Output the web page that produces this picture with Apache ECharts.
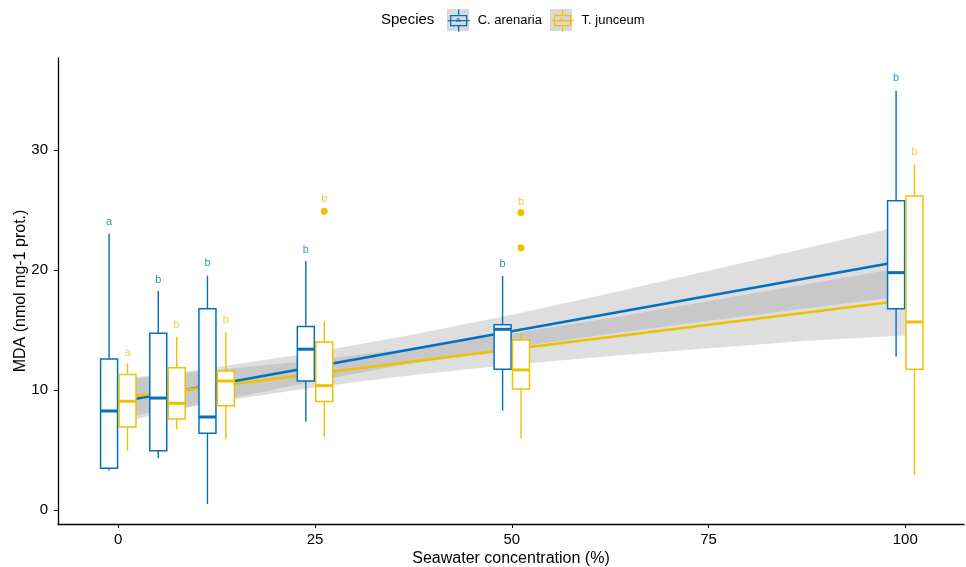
<!DOCTYPE html>
<html>
<head>
<meta charset="utf-8">
<title>MDA vs seawater concentration</title>
<script src="https://cdn.jsdelivr.net/npm/echarts@6/dist/echarts.min.js"></script>
<style>
  html, body { margin: 0; padding: 0; background: #fff; }
  #chart { width: 966px; height: 567px; }
</style>
</head>
<body>
<div id="chart"></div>
<script>
// seawater treatments (%)
const concentrations = [0, 6.25, 12.5, 25, 50, 100];

// boxplots: [min, Q1, median, Q3, max]
const arenariaBox = [
  [3.28, 3.47, 8.25, 12.58, 23.05],
  [4.33, 4.94, 9.33, 14.72, 18.25],
  [0.5, 6.39, 7.75, 16.78, 19.53],
  [7.36, 10.75, 13.4, 15.3, 20.75],
  [8.28, 11.72, 15.06, 15.44, 19.5],
  [12.78, 16.78, 19.78, 25.78, 34.94],
];
const junceumBox = [
  [4.94, 6.92, 9.06, 11.3, 12.22],
  [6.72, 7.58, 8.89, 11.86, 14.44],
  [5.92, 8.69, 10.75, 11.58, 14.86],
  [6.11, 9.03, 10.36, 14.0, 15.7],
  [5.97, 10.08, 11.67, 14.17, 14.72],
  [2.92, 11.72, 15.67, 26.17, 28.8],
];

// outliers of T. junceum: [concentration, value]
const junceumOutliers = [[25, 24.9], [50, 24.8], [50, 21.86]];

// significance letters and where they sit
const arenariaLetters = ["a", "b", "b", "b", "b", "b"];
const arenariaLetterY = [24.0, 19.2, 20.6, 21.7, 20.5, 36.0];
const junceumLetters = ["a", "b", "b", "b", "b", "b"];
const junceumLetterY = [13.1, 15.4, 15.8, 25.9, 25.7, 29.8];

// linear fits
const fitX = [0, 100];
const arenariaFit = [9.0, 20.8];
const junceumFit = [9.31, 17.48];

// confidence bands of the fits
const bandX = [0, 12.5, 25, 37.5, 50, 62.5, 75, 87.5, 100];
const arenariaLower = [7.25, 9.07, 10.75, 12.24, 13.53, 14.69, 15.77, 16.82, 17.84];
const arenariaUpper = [10.75, 11.89, 13.15, 14.62, 16.27, 18.07, 19.93, 21.84, 23.76];
const junceumLower = [7.66, 9.0, 10.22, 11.25, 12.11, 12.83, 13.48, 14.1, 14.55];
const junceumUpper = [10.96, 11.66, 12.48, 13.49, 14.69, 16.01, 17.4, 18.82, 20.26];

const xTicks = [0, 25, 50, 75, 100];
const yTicks = [0, 10, 20, 30];

const BLUE = "#0070BF";
const YELLOW = "#EFC000";
const BAND = "rgba(153,153,153,0.32)";
const FONT = "Liberation Sans, Arial, sans-serif";
const dodge = 1.17;     // half the dodge distance, in x units
const boxWidth = 2.16;  // in x units

const chart = echarts.init(document.getElementById("chart"));

function zip(xs, ys) {
  return xs.map((x, i) => [x, ys[i]]);
}

function boxData(boxes, offset) {
  return boxes.map((b, i) => [concentrations[i] + offset].concat(b));
}

function letterData(letters, ys, offset) {
  return letters.map((l, i) => [concentrations[i] + offset, ys[i], l]);
}

function renderBox(params, api) {
  const x = api.value(0);
  const lo = api.coord([x, api.value(1)]);
  const q1 = api.coord([x, api.value(2)]);
  const med = api.coord([x, api.value(3)]);
  const q3 = api.coord([x, api.value(4)]);
  const hi = api.coord([x, api.value(5)]);
  const w = api.size([boxWidth, 0])[0];
  const color = api.visual("color");
  const line = { stroke: color, lineWidth: 1.4 };
  return {
    type: "group",
    children: [
      { type: "line", shape: { x1: hi[0], y1: hi[1], x2: q3[0], y2: q3[1] }, style: line },
      { type: "line", shape: { x1: q1[0], y1: q1[1], x2: lo[0], y2: lo[1] }, style: line },
      {
        type: "rect",
        shape: { x: q3[0] - w / 2, y: q3[1], width: w, height: q1[1] - q3[1] },
        style: { fill: "#fff", stroke: color, lineWidth: 1.5 },
      },
      {
        type: "line",
        shape: { x1: med[0] - w / 2, y1: med[1], x2: med[0] + w / 2, y2: med[1] },
        style: { stroke: color, lineWidth: 3 },
      },
    ],
  };
}

// one polygon for the whole band, drawn when the first item comes in
function bandSeries(lower, upper) {
  return {
    type: "custom",
    silent: true,
    z: 1,
    data: bandX.map((x, i) => [x, lower[i], upper[i]]),
    encode: { x: 0, y: [1, 2] },
    renderItem: function (params, api) {
      if (params.dataIndex !== 0) return null;
      const top = bandX.map((x, i) => api.coord([x, upper[i]]));
      const bottom = bandX.map((x, i) => api.coord([x, lower[i]])).reverse();
      return {
        type: "polygon",
        shape: { points: top.concat(bottom) },
        style: { fill: BAND },
      };
    },
  };
}

function letterSeries(data, color) {
  return {
    type: "scatter",
    data: data,
    symbolSize: 1,
    itemStyle: { color: "rgba(0,0,0,0)" },
    label: {
      show: true,
      position: "inside",
      formatter: (p) => p.value[2],
      color: color,
      fontSize: 11,
      fontFamily: FONT,
    },
    labelLayout: { hideOverlap: false },
    silent: true,
    z: 5,
  };
}

// legend key glyph: whisker, box, median and fit line
const keyIcon =
  "path://M11,0L11,6M3,6L19,6L19,16L3,16ZM3,11L19,11M11,16L11,22M0,11L3,11M19,11L22,11";

const option = {
  animation: false,
  textStyle: { fontFamily: FONT },
  title: {
    text: "Species",
    left: 381,
    top: 12,
    padding: 0,
    textStyle: { fontSize: 15, fontWeight: "normal", color: "#000", fontFamily: FONT },
  },
  legend: {
    left: 447,
    top: 9,
    padding: 0,
    itemWidth: 22,
    itemHeight: 22,
    itemGap: 9,
    z: 10,
    textStyle: { fontSize: 13, color: "#000", fontFamily: FONT, padding: [0, 0, 0, 3] },
    data: [
      {
        name: "C. arenaria",
        icon: keyIcon,
        itemStyle: { color: "rgba(0,0,0,0)", borderColor: BLUE, borderWidth: 1.3 },
      },
      {
        name: "T. junceum",
        icon: keyIcon,
        itemStyle: { color: "rgba(0,0,0,0)", borderColor: YELLOW, borderWidth: 1.3 },
      },
    ],
  },
  graphic: [
    { type: "rect", left: 447, top: 9, z: 1, shape: { width: 22, height: 22 }, style: { fill: "#d9d9d9" } },
    { type: "rect", left: 550, top: 9, z: 1, shape: { width: 22, height: 22 }, style: { fill: "#d9d9d9" } },
    {
      type: "text", x: 458, y: 20, z: 20,
      style: { text: "a", fill: BLUE, fontSize: 8, fontFamily: FONT, align: "center", verticalAlign: "middle" },
    },
    {
      type: "text", x: 561, y: 20, z: 20,
      style: { text: "a", fill: YELLOW, fontSize: 8, fontFamily: FONT, align: "center", verticalAlign: "middle" },
    },
  ],
  grid: { left: 58, right: 2, top: 58, bottom: 43, outerBoundsMode: "none" },
  xAxis: {
    type: "value",
    min: -7.66,
    max: 107.46,
    name: "Seawater concentration (%)",
    nameLocation: "middle",
    nameGap: 27,
    nameMoveOverlap: false,
    nameTextStyle: { fontSize: 16, color: "#000", fontFamily: FONT },
    axisLine: { show: true, onZero: false, lineStyle: { color: "#000", width: 1.3 } },
    axisTick: { show: true, length: 4, customValues: xTicks, lineStyle: { color: "#000" } },
    axisLabel: { customValues: xTicks, fontSize: 15, color: "#000", margin: 8, fontFamily: FONT },
    splitLine: { show: false },
  },
  yAxis: {
    type: "value",
    min: -1.17,
    max: 37.67,
    name: "MDA (nmol mg-1 prot.)",
    nameLocation: "middle",
    nameGap: 29,
    nameMoveOverlap: false,
    nameTextStyle: { fontSize: 16, color: "#000", fontFamily: FONT },
    axisLine: { show: true, onZero: false, lineStyle: { color: "#000", width: 1.3 } },
    axisTick: { show: true, length: 4, customValues: yTicks, lineStyle: { color: "#000" } },
    axisLabel: { customValues: yTicks, fontSize: 15, color: "#000", margin: 10, fontFamily: FONT },
    splitLine: { show: false },
  },
  series: [
    bandSeries(arenariaLower, arenariaUpper),
    bandSeries(junceumLower, junceumUpper),
    {
      type: "line",
      data: zip(fitX, arenariaFit),
      symbol: "none",
      lineStyle: { color: BLUE, width: 2.6 },
      silent: true,
      z: 2,
    },
    {
      type: "line",
      data: zip(fitX, junceumFit),
      symbol: "none",
      lineStyle: { color: YELLOW, width: 2.6 },
      silent: true,
      z: 2,
    },
    {
      name: "C. arenaria",
      type: "custom",
      renderItem: renderBox,
      itemStyle: { color: BLUE },
      encode: { x: 0, y: [1, 2, 3, 4, 5] },
      data: boxData(arenariaBox, -dodge),
      z: 3,
    },
    {
      name: "T. junceum",
      type: "custom",
      renderItem: renderBox,
      itemStyle: { color: YELLOW },
      encode: { x: 0, y: [1, 2, 3, 4, 5] },
      data: boxData(junceumBox, dodge),
      z: 3,
    },
    {
      type: "scatter",
      data: junceumOutliers.map((p) => [p[0] + dodge, p[1]]),
      symbolSize: 7,
      itemStyle: { color: YELLOW, opacity: 1 },
      silent: true,
      z: 4,
    },
    letterSeries(letterData(arenariaLetters, arenariaLetterY, -dodge), BLUE),
    letterSeries(letterData(junceumLetters, junceumLetterY, dodge), YELLOW),
  ],
};

chart.setOption(option);
</script>
</body>
</html>
